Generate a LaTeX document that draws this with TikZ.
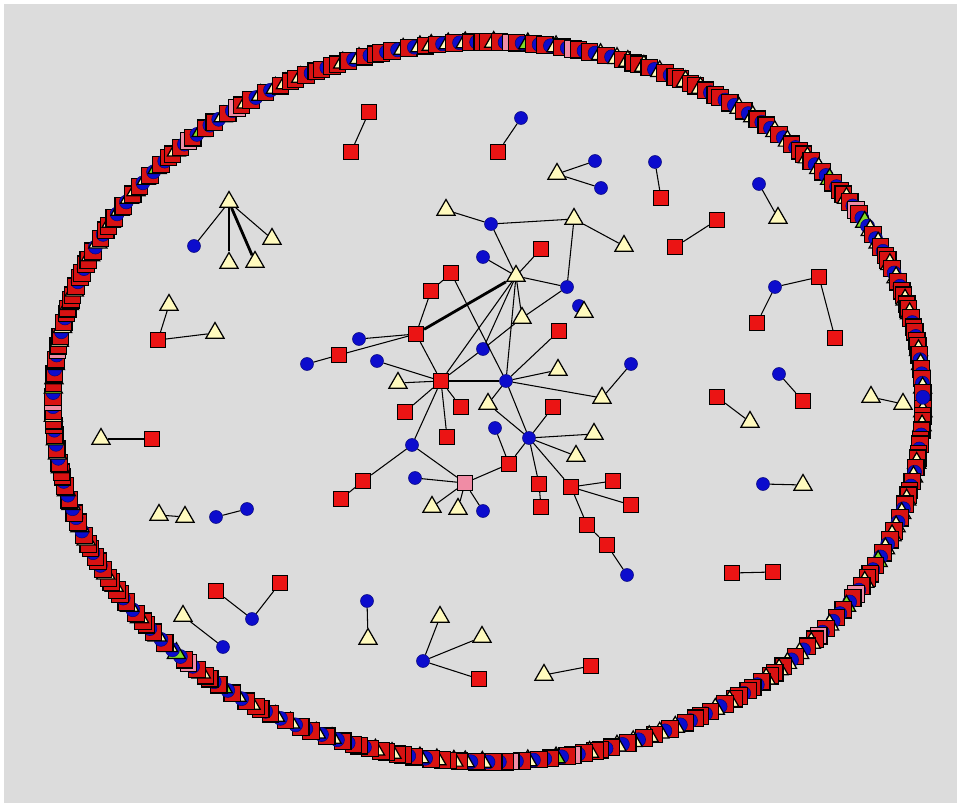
\documentclass[tikz,border=0pt]{standalone}
\usetikzlibrary{shapes.geometric}

\definecolor{redfill}{RGB}{235,20,20}
\definecolor{bluefill}{RGB}{12,12,205}
\definecolor{trifill}{RGB}{255,250,190}
\definecolor{pinkfill}{RGB}{240,140,165}
\definecolor{greenfill}{RGB}{130,220,40}
\definecolor{bgray}{RGB}{220,220,220}

\tikzset{
  sqnode/.style={rectangle, draw=black, fill=redfill, minimum size=0.3cm, inner sep=0pt, line width=0.7pt},
  pknode/.style={sqnode, fill=pinkfill},
  blnode/.style={circle, draw=bluefill!60!black, fill=bluefill, minimum size=0.26cm, inner sep=0pt, line width=0.3pt},
  trnode/.style={regular polygon, regular polygon sides=3, draw=black, fill=trifill, minimum size=0.42cm, inner sep=0pt, line width=0.7pt},
  grnode/.style={trnode, fill=greenfill},
  ringsq/.style={sqnode, fill=redfill!92!black, minimum size=0.33cm},
  heavy/.style={line width=1.6pt}
}

\begin{document}
\begin{tikzpicture}[x=0.02cm, y=-0.02cm, line width=0.6pt]

      % Background
      \useasboundingbox (0,0) rectangle (957,803);
      \fill[white] (0,0) rectangle (957,803);
      \fill[bgray] (4,4) rectangle (957,803);

      % Ring of unconnected nodes
      \foreach \i in {0,...,479}{
        \pgfmathsetmacro\ang{\i*0.75}
        \pgfmathtruncatemacro\k{mod(\i*13+floor(\i/7)*5,37)}
        \ifnum\k<16
          \node[ringsq] (ring\i) at ({488+435*cos(\ang)},{402+360*sin(\ang)}) {};
        \else\ifnum\k<26
          \node[blnode, minimum size=0.28cm] (ring\i) at ({488+435*cos(\ang)},{402+360*sin(\ang)}) {};
        \else\ifnum\k<34
          \node[trnode] (ring\i) at ({488+435*cos(\ang)},{402+360*sin(\ang)}) {};
        \else\ifnum\k<35
          \node[pknode, minimum size=0.33cm] (ring\i) at ({488+435*cos(\ang)},{402+360*sin(\ang)}) {};
        \else\ifnum\k<36
          \node[ringsq] (ring\i) at ({488+435*cos(\ang)},{402+360*sin(\ang)}) {};
        \else
          \node[grnode] (ring\i) at ({488+435*cos(\ang)},{402+360*sin(\ang)}) {};
        \fi\fi\fi\fi\fi
      }

      % Define the positions of the nodes
      % central component
      \node[trnode] (t1) at (446,210) {};
      \node[blnode] (b1) at (491,224) {};
      \node[trnode] (t2) at (574,219) {};
      \node[trnode] (t3) at (624,246) {};
      \node[sqnode] (r1) at (541,249) {};
      \node[blnode] (b2) at (483,257) {};
      \node[trnode] (t4) at (516,276) {};
      \node[sqnode] (r2) at (451,273) {};
      \node[sqnode] (r3) at (431,291) {};
      \node[blnode] (b3) at (567,287) {};
      \node[blnode] (b16) at (579,306) {};
      \node[trnode] (t5) at (584,312) {};
      \node[trnode] (t6) at (522,318) {};
      \node[sqnode] (r4) at (559,331) {};
      \node[sqnode] (r5) at (416,334) {};
      \node[blnode] (b4) at (359,339) {};
      \node[sqnode] (r6) at (339,355) {};
      \node[blnode] (b5) at (307,364) {};
      \node[blnode] (b6) at (483,349) {};
      \node[blnode] (b7) at (377,361) {};
      \node[blnode] (b8) at (631,364) {};
      \node[trnode] (t7) at (558,370) {};
      \node[sqnode] (r7) at (441,381) {};
      \node[blnode] (b9) at (506,381) {};
      \node[trnode] (t8) at (398,383) {};
      \node[trnode] (t9) at (602,398) {};
      \node[trnode] (t10) at (488,404) {};
      \node[sqnode] (r8) at (405,412) {};
      \node[sqnode] (r9) at (461,407) {};
      \node[sqnode] (r10) at (553,407) {};
      \node[blnode] (b10) at (495,428) {};
      \node[sqnode] (r11) at (447,437) {};
      \node[trnode] (t11) at (594,434) {};
      \node[blnode] (b11) at (529,438) {};
      \node[blnode] (b12) at (412,445) {};
      \node[trnode] (t12) at (576,456) {};
      \node[sqnode] (r12) at (509,464) {};
      \node[sqnode] (r13) at (363,481) {};
      \node[blnode] (b13) at (415,478) {};
      \node[pknode] (p1) at (465,483) {};
      \node[sqnode] (r14) at (539,484) {};
      \node[sqnode] (r15) at (571,487) {};
      \node[sqnode] (r16) at (613,481) {};
      \node[sqnode] (r17) at (341,499) {};
      \node[trnode] (t13) at (432,507) {};
      \node[trnode] (t14) at (458,509) {};
      \node[blnode] (b14) at (483,511) {};
      \node[sqnode] (r18) at (541,507) {};
      \node[sqnode] (r19) at (631,505) {};
      \node[sqnode] (r20) at (587,525) {};
      \node[sqnode] (r21) at (607,545) {};
      \node[blnode] (b15) at (627,575) {};

      % small components
      \node[sqnode] (r22) at (369,112) {};
      \node[sqnode] (r23) at (351,152) {};
      \node[trnode] (t15) at (229,202) {};
      \node[blnode] (b17) at (194,246) {};
      \node[trnode] (t16) at (229,263) {};
      \node[trnode] (t17) at (255,262) {};
      \node[trnode] (t18) at (272,239) {};
      \node[trnode] (t19) at (169,305) {};
      \node[sqnode] (r24) at (158,340) {};
      \node[trnode] (t20) at (215,333) {};
      \node[blnode] (b18) at (521,118) {};
      \node[sqnode] (r25) at (498,152) {};
      \node[trnode] (t21) at (557,174) {};
      \node[blnode] (b19) at (595,161) {};
      \node[blnode] (b20) at (601,188) {};
      \node[blnode] (b21) at (655,162) {};
      \node[sqnode] (r26) at (661,198) {};
      \node[blnode] (b22) at (759,184) {};
      \node[trnode] (t22) at (778,218) {};
      \node[sqnode] (r27) at (717,220) {};
      \node[sqnode] (r28) at (675,247) {};
      \node[blnode] (b23) at (775,287) {};
      \node[sqnode] (r29) at (819,277) {};
      \node[sqnode] (r30) at (757,323) {};
      \node[sqnode] (r31) at (835,338) {};
      \node[sqnode] (r32) at (717,397) {};
      \node[trnode] (t23) at (750,422) {};
      \node[blnode] (b24) at (779,374) {};
      \node[sqnode] (r33) at (803,401) {};
      \node[trnode] (t24) at (871,397) {};
      \node[trnode] (t25) at (903,404) {};
      \node[blnode] (b25) at (763,484) {};
      \node[trnode] (t26) at (803,485) {};
      \node[sqnode] (r34) at (732,573) {};
      \node[sqnode] (r35) at (773,572) {};
      \node[trnode] (t27) at (101,439) {};
      \node[sqnode] (r36) at (152,439) {};
      \node[trnode] (t28) at (159,515) {};
      \node[trnode] (t29) at (185,517) {};
      \node[blnode] (b26) at (216,517) {};
      \node[blnode] (b27) at (247,509) {};
      \node[sqnode] (r37) at (216,591) {};
      \node[blnode] (b28) at (252,619) {};
      \node[sqnode] (r38) at (280,583) {};
      \node[trnode] (t30) at (183,616) {};
      \node[blnode] (b29) at (223,647) {};
      \node[blnode] (b30) at (367,601) {};
      \node[trnode] (t31) at (368,639) {};
      \node[trnode] (t32) at (440,617) {};
      \node[blnode] (b31) at (423,661) {};
      \node[trnode] (t33) at (482,637) {};
      \node[sqnode] (r39) at (479,679) {};
      \node[trnode] (t34) at (544,675) {};
      \node[sqnode] (r40) at (591,666) {};

      % Draw the edges
      \draw (t1) -- (b1);
      \draw (b1) -- (t2);
      \draw (t2) -- (t3);
      \draw (b1) -- (t4);
      \draw (t2) -- (b3);
      \draw (r1) -- (t4);
      \draw (b2) -- (t4);
      \draw (t4) -- (b3);
      \draw[heavy] (t4) -- (r5);
      \draw (t4) -- (t6);
      \draw (t4) -- (b6);
      \draw (t4) -- (r7);
      \draw (t4) -- (b9);
      \draw (r2) -- (r3);
      \draw (r2) -- (b9);
      \draw (r3) -- (r5);
      \draw (b3) -- (t6);
      \draw (t6) -- (b6);
      \draw (r5) -- (b4);
      \draw (r5) -- (r6);
      \draw (r6) -- (b5);
      \draw (r5) -- (r7);
      \draw (b7) -- (r7);
      \draw (t8) -- (r7);
      \draw (r7) -- (b9);
      \draw (r7) -- (b6);
      \draw (r7) -- (r8);
      \draw (r7) -- (r9);
      \draw (r7) -- (r11);
      \draw (r7) -- (b12);
      \draw (b9) -- (r4);
      \draw (b9) -- (t7);
      \draw (b9) -- (t9);
      \draw (t9) -- (b8);
      \draw (b9) -- (t10);
      \draw (t10) -- (b11);
      \draw (b9) -- (b11);
      \draw (b11) -- (r10);
      \draw (b11) -- (t11);
      \draw (b11) -- (t12);
      \draw (b11) -- (r12);
      \draw (b11) -- (r14);
      \draw (b11) -- (r15);
      \draw (b10) -- (r12);
      \draw (r12) -- (p1);
      \draw (b12) -- (p1);
      \draw (b12) -- (r13);
      \draw (r13) -- (r17);
      \draw (b13) -- (p1);
      \draw (p1) -- (t13);
      \draw (p1) -- (t14);
      \draw (p1) -- (b14);
      \draw (r14) -- (r18);
      \draw (r15) -- (r16);
      \draw (r15) -- (r19);
      \draw (r15) -- (r20);
      \draw (r20) -- (r21);
      \draw (r21) -- (b15);

      \draw (r22) -- (r23);
      \draw (t15) -- (b17);
      \draw (t15) -- (t16);
      \draw[heavy] (t15) -- (t17);
      \draw (t15) -- (t18);
      \draw (r24) -- (t19);
      \draw (r24) -- (t20);
      \draw (b18) -- (r25);
      \draw (t21) -- (b19);
      \draw (t21) -- (b20);
      \draw (b21) -- (r26);
      \draw (b22) -- (t22);
      \draw (r27) -- (r28);
      \draw (b23) -- (r29);
      \draw (b23) -- (r30);
      \draw (r29) -- (r31);
      \draw (r32) -- (t23);
      \draw (b24) -- (r33);
      \draw (t24) -- (t25);
      \draw (b25) -- (t26);
      \draw (r34) -- (r35);
      \draw (t27) -- (r36);
      \draw (t28) -- (t29);
      \draw (b26) -- (b27);
      \draw (r37) -- (b28);
      \draw (b28) -- (r38);
      \draw (t30) -- (b29);
      \draw (b30) -- (t31);
      \draw (b31) -- (t32);
      \draw (b31) -- (t33);
      \draw (b31) -- (r39);
      \draw (t34) -- (r40);
  \end{tikzpicture}
\end{document}
